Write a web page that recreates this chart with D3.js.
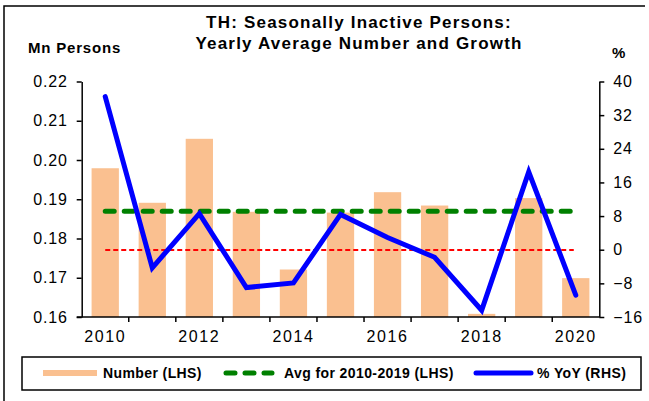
<!DOCTYPE html>
<html>
<head>
<meta charset="utf-8">
<script src="https://cdn.jsdelivr.net/npm/d3@7"></script>
<style>
    body { margin: 0; background: #fff; }
    text { font-family: "Liberation Sans", Arial, sans-serif; fill: #000; }
</style>
</head>
<body>
<div id="chart"></div>
<script>
// data
var years = ["2010", "2011", "2012", "2013", "2014", "2015", "2016", "2017", "2018", "2019", "2020"];
var number = [0.1979, 0.1891, 0.2054, 0.1868, 0.1721, 0.1866, 0.1918, 0.1884, 0.1608, 0.1903, 0.1699];
var yoy = [36.4, -4.3, 8.6, -9.0, -7.9, 8.4, 2.9, -1.8, -14.4, 18.5, -10.8];
var avgYears = ["2010", "2011", "2012", "2013", "2014", "2015", "2016", "2017", "2018", "2019"];
var leftTicks = [0.16, 0.17, 0.18, 0.19, 0.20, 0.21, 0.22];
var rightTicks = [-16, -8, 0, 8, 16, 24, 32, 40];
var xLabels = ["2010", "2012", "2014", "2016", "2018", "2020"];

var width = 649;
var height = 401;

var svg = d3.select("#chart")
    .append("svg")
    .attr("width", width)
    .attr("height", height);

// outer frame (left + top edges visible)
svg.append("path")
    .attr("d", "M4,401 L4,6 L645,6")
    .attr("fill", "none")
    .attr("stroke", "#000")
    .attr("stroke-width", 1.5);

var plotLeft = 81.7, plotRight = 599.3, plotTop = 81.5, plotBottom = 317;

var x = d3.scaleBand()
    .domain(years)
    .range([plotLeft, plotRight])
    .paddingInner(0.42)
    .paddingOuter(0.21);

var yL = d3.scaleLinear().domain([0.16, 0.22]).range([plotBottom, plotTop]);
var yR = d3.scaleLinear().domain([-16, 40]).range([plotBottom, plotTop]);

function cx(d) { return x(d) + x.bandwidth() / 2; }

// bars
svg.append("g")
    .selectAll("rect")
    .data(years)
    .enter()
    .append("rect")
    .attr("x", function(d) { return x(d); })
    .attr("width", x.bandwidth())
    .attr("y", function(d, i) { return yL(number[i]); })
    .attr("height", function(d, i) { return plotBottom - yL(number[i]); })
    .attr("fill", "#FAC090");

// average line
var avg = d3.mean(avgYears, function(d) { return number[years.indexOf(d)]; });
svg.append("line")
    .attr("x1", cx(years[0]))
    .attr("x2", cx(years[years.length - 1]))
    .attr("y1", yL(avg))
    .attr("y2", yL(avg))
    .attr("stroke", "#008000")
    .attr("stroke-width", 5)
    .attr("stroke-linecap", "round")
    .attr("stroke-dasharray", "9,10");

// zero line on the right axis
svg.append("line")
    .attr("x1", cx(years[0]))
    .attr("x2", cx(years[years.length - 1]) - 2)
    .attr("y1", Math.round(yR(0)))
    .attr("y2", Math.round(yR(0)))
    .attr("stroke", "#FF0000")
    .attr("stroke-width", 2)
    .attr("stroke-dasharray", "5,3");

// yoy line
var line = d3.line()
    .x(function(d) { return cx(d); })
    .y(function(d, i) { return yR(yoy[i]); });

svg.append("path")
    .datum(years)
    .attr("d", line)
    .attr("fill", "none")
    .attr("stroke", "#0000FF")
    .attr("stroke-width", 5)
    .attr("stroke-linejoin", "miter")
    .attr("stroke-linecap", "round");

// left axis
var gL = svg.append("g")
    .attr("transform", "translate(" + plotLeft + ",0)")
    .call(d3.axisLeft(yL).tickValues(leftTicks).tickFormat(d3.format(".2f")).tickSize(5).tickSizeOuter(0).tickPadding(9));

// right axis
var gR = svg.append("g")
    .attr("transform", "translate(" + plotRight + ",0)")
    .call(d3.axisRight(yR).tickValues(rightTicks).tickSize(5).tickSizeOuter(0).tickPadding(9));

[gL, gR].forEach(function(g) {
    g.select(".domain").attr("stroke", "#000").attr("stroke-width", 1.5);
    g.selectAll(".tick line").attr("stroke", "#000").attr("stroke-width", 1.5);
    g.selectAll(".tick text")
        .style("font-family", "'Liberation Sans', Arial, sans-serif")
        .style("font-size", "16px")
        .style("letter-spacing", "0.8px")
        .attr("fill", "#000");
});

// x axis line with ticks between categories
svg.append("line")
    .attr("x1", plotLeft - 5)
    .attr("x2", plotRight)
    .attr("y1", plotBottom)
    .attr("y2", plotBottom)
    .attr("stroke", "#000")
    .attr("stroke-width", 1.5);

svg.append("g")
    .selectAll("line")
    .data(years.slice(0, -1))
    .enter()
    .append("line")
    .attr("x1", function(d) { return x(d) + x.bandwidth() + x.step() * x.paddingInner() / 2; })
    .attr("x2", function(d) { return x(d) + x.bandwidth() + x.step() * x.paddingInner() / 2; })
    .attr("y1", plotBottom)
    .attr("y2", plotBottom + 5)
    .attr("stroke", "#000")
    .attr("stroke-width", 1.5);

svg.append("g")
    .selectAll("text")
    .data(xLabels)
    .enter()
    .append("text")
    .attr("x", function(d) { return cx(d); })
    .attr("y", 342)
    .attr("text-anchor", "middle")
    .style("font-size", "16px")
    .style("letter-spacing", "1.6px")
    .text(function(d) { return d; });

// titles
svg.append("text")
    .attr("x", 359).attr("y", 28)
    .attr("text-anchor", "middle")
    .style("font-size", "17px")
    .style("font-weight", "bold")
    .style("letter-spacing", "1.2px")
    .text("TH: Seasonally Inactive Persons:");
svg.append("text")
    .attr("x", 359).attr("y", 49)
    .attr("text-anchor", "middle")
    .style("font-size", "17px")
    .style("font-weight", "bold")
    .style("letter-spacing", "1.2px")
    .text("Yearly Average Number and Growth");
svg.append("text")
    .attr("x", 28).attr("y", 53)
    .style("font-size", "15px")
    .style("font-weight", "bold")
    .style("letter-spacing", "0.8px")
    .text("Mn Persons");
svg.append("text")
    .attr("x", 612).attr("y", 58)
    .style("font-size", "15px")
    .style("font-weight", "bold")
    .text("%");

// legend
var legend = svg.append("g");
legend.append("rect")
    .attr("x", 22).attr("y", 357)
    .attr("width", 619).attr("height", 33)
    .attr("fill", "#fff")
    .attr("stroke", "#000")
    .attr("stroke-width", 1.5);

var ly = 373;
legend.append("line")
    .attr("x1", 43).attr("x2", 97).attr("y1", ly).attr("y2", ly)
    .attr("stroke", "#FAC090").attr("stroke-width", 6);
legend.append("text")
    .attr("x", 103).attr("y", ly + 5)
    .style("font-size", "14px").style("font-weight", "bold").style("letter-spacing", "0.4px")
    .text("Number (LHS)");

legend.append("line")
    .attr("x1", 226).attr("x2", 272).attr("y1", ly).attr("y2", ly)
    .attr("stroke", "#008000").attr("stroke-width", 5)
    .attr("stroke-linecap", "round").attr("stroke-dasharray", "9,10");
legend.append("text")
    .attr("x", 284).attr("y", ly + 5)
    .style("font-size", "14px").style("font-weight", "bold").style("letter-spacing", "0.4px")
    .text("Avg for 2010-2019 (LHS)");

legend.append("line")
    .attr("x1", 476).attr("x2", 531).attr("y1", ly).attr("y2", ly)
    .attr("stroke", "#0000FF").attr("stroke-width", 5)
    .attr("stroke-linecap", "round");
legend.append("text")
    .attr("x", 537).attr("y", ly + 5)
    .style("font-size", "14px").style("font-weight", "bold").style("letter-spacing", "0.4px")
    .text("% YoY (RHS)");
</script>
</body>
</html>
